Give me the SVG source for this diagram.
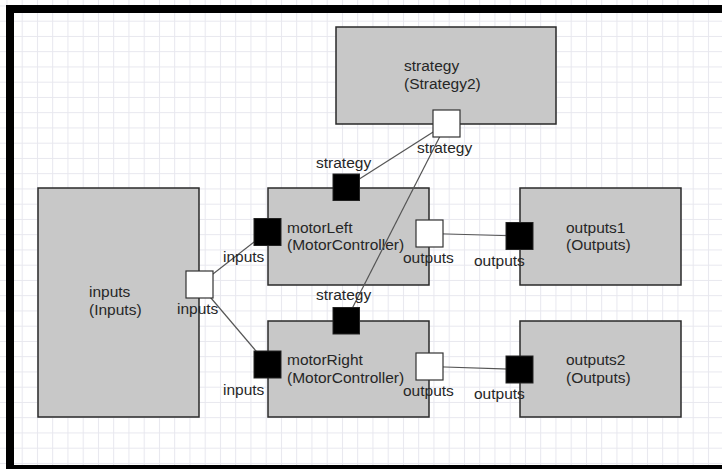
<svg xmlns="http://www.w3.org/2000/svg" width="722" height="469" viewBox="0 0 722 469">
<defs>
<pattern id="grid" x="6.45" y="5.45" width="15.25" height="15.25" patternUnits="userSpaceOnUse">
<path d="M0.5 0 V15.25 M0 0.5 H15.25" fill="none" stroke="#e7e7ee" stroke-width="1"/>
</pattern>
<style>
.node{fill:#c8c8c8;stroke:#2a2a2a;stroke-width:1.5}
.pin{fill:#000;stroke:#222;stroke-width:1}
.pout{fill:#fff;stroke:#333;stroke-width:1.2}
.conn{stroke:#555;stroke-width:1.2;fill:none}
text{font-family:"Liberation Sans",Arial,sans-serif;font-size:15.5px;fill:#262626}
</style>
</defs>
<rect width="722" height="469" fill="#fff"/>
<rect width="722" height="469" fill="url(#grid)"/>
<rect x="10" y="9" width="800" height="460" fill="none" stroke="#000" stroke-width="8"/>

<g id="node-strategy">
<rect class="node" x="336" y="27" width="220" height="97"/>
<text x="404" y="71">strategy</text>
<text x="404" y="88.5">(Strategy2)</text>
</g>
<g id="node-inputs">
<rect class="node" x="38" y="188" width="161" height="229"/>
<text x="89" y="297">inputs</text>
<text x="89" y="314.5">(Inputs)</text>
</g>
<g id="node-motorLeft">
<rect class="node" x="268" y="188" width="161" height="97"/>
<text x="287" y="232.5">motorLeft</text>
<text x="287" y="250">(MotorController)</text>
</g>
<g id="node-motorRight">
<rect class="node" x="268" y="321" width="161" height="96"/>
<text x="287" y="365">motorRight</text>
<text x="287" y="382.5">(MotorController)</text>
</g>
<g id="node-outputs1">
<rect class="node" x="520" y="188" width="161" height="97"/>
<text x="566" y="232.5">outputs1</text>
<text x="566" y="250">(Outputs)</text>
</g>
<g id="node-outputs2">
<rect class="node" x="520" y="321" width="161" height="96"/>
<text x="566" y="365">outputs2</text>
<text x="566" y="382.5">(Outputs)</text>
</g>

<g id="connectors">
<line class="conn" x1="199.5" y1="284.5" x2="267.5" y2="231.5"/>
<line class="conn" x1="199.5" y1="284.5" x2="267.5" y2="364.5"/>
<line class="conn" x1="429.5" y1="233.5" x2="519.5" y2="236"/>
<line class="conn" x1="429.5" y1="366.5" x2="519.5" y2="369.5"/>
<line class="conn" x1="446.5" y1="123.5" x2="346" y2="187.5"/>
<line class="conn" x1="446.5" y1="123.5" x2="346" y2="320.5"/>
</g>

<g id="port-strategy-strategy">
<rect class="pout" x="433" y="110" width="27" height="27"/>
<text x="417" y="153">strategy</text>
</g>
<g id="port-inputs-inputs">
<rect class="pout" x="186" y="271" width="27" height="27"/>
<text x="177" y="314">inputs</text>
</g>
<g id="port-motorLeft-strategy">
<rect class="pin" x="333" y="174" width="26.5" height="26.5"/>
<text x="316" y="167.5">strategy</text>
</g>
<g id="port-motorLeft-inputs">
<rect class="pin" x="254" y="218.5" width="27" height="27"/>
<text x="223" y="262">inputs</text>
</g>
<g id="port-motorLeft-outputs">
<rect class="pout" x="416" y="220" width="27" height="27"/>
<text x="403" y="263">outputs</text>
</g>
<g id="port-motorRight-strategy">
<rect class="pin" x="333" y="307.5" width="26.5" height="26.5"/>
<text x="316" y="299.5">strategy</text>
</g>
<g id="port-motorRight-inputs">
<rect class="pin" x="254" y="351" width="27" height="27"/>
<text x="223" y="394.5">inputs</text>
</g>
<g id="port-motorRight-outputs">
<rect class="pout" x="416" y="353" width="27" height="27"/>
<text x="403" y="396">outputs</text>
</g>
<g id="port-outputs1-outputs">
<rect class="pin" x="506" y="222.5" width="27" height="27"/>
<text x="474" y="266">outputs</text>
</g>
<g id="port-outputs2-outputs">
<rect class="pin" x="506" y="356" width="27" height="27"/>
<text x="474" y="399">outputs</text>
</g>
</svg>
